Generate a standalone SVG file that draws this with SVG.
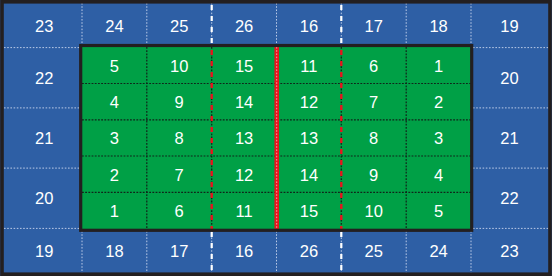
<svg xmlns="http://www.w3.org/2000/svg" width="552" height="276" viewBox="0 0 552 276">
<style>
.bd{stroke:#b9c9e6;stroke-width:1;stroke-dasharray:1.6 1.6;fill:none}
.gd{stroke:#10241a;stroke-width:1.2;stroke-dasharray:1.8 1.4;fill:none}
.wd{stroke:#ffffff;stroke-width:2.2;stroke-dasharray:5 6;fill:none}
.rd{stroke:#e8141e;stroke-width:2.4;stroke-dasharray:5 6;fill:none}
text{font-family:"Liberation Sans",Arial,sans-serif;font-size:16.5px;fill:#ffffff;text-anchor:middle}
</style>
<g id="court">
<rect x="0" y="0" width="552" height="276" fill="#2e5fa5"/>
<g id="blue-grid">
<path class="bd" d="M82 3V45M146.8 3V45M211.7 3V45M276.5 3V45M341.3 3V45M406.2 3V45M471 3V45"/>
<path class="bd" d="M82 231V273M146.8 231V273M211.7 231V273M276.5 231V273M341.3 231V273M406.2 231V273M471 231V273"/>
<path class="bd" d="M4 47.6H80M4 107.9H80M4 168.1H80M4 228.4H80"/>
<path class="bd" d="M473 47.6H548M473 107.9H548M473 168.1H548M473 228.4H548"/>
</g>
<rect x="80.7" y="45.5" width="391" height="184.8" fill="#00a046"/>
<g id="green-grid">
<path class="gd" d="M82 83.5H471M82 119.8H471M82 156H471M82 192.3H471"/>
<path class="gd" d="M146.8 47V229M211.7 47V229M341.3 47V229M406.2 47V229"/>
</g>
<g id="lines">
<path class="wd" d="M211.7 5V44M341.3 5V44M211.7 232V272M341.3 232V272"/>
<path class="rd" d="M211.7 50V229M341.3 50V229"/>
<path d="M276.7 47V229" stroke="#e8141e" stroke-width="4.6" fill="none"/>
<path d="M276.7 47V229" stroke="#f6a0a0" stroke-width="1" stroke-dasharray="1.6 1.6" fill="none"/>
</g>
<rect x="80.7" y="45.5" width="391" height="184.8" fill="none" stroke="#231f20" stroke-width="3.2"/>
<rect x="2" y="1.8" width="548" height="272.4" fill="none" stroke="#231f20" stroke-width="3.6"/>
</g>
<g id="top-row">
<text x="44.3" y="32.3">23</text>
<text x="114.4" y="32.3">24</text>
<text x="179.2" y="32.3">25</text>
<text x="244.1" y="32.3">26</text>
<text x="308.9" y="32.3">16</text>
<text x="373.7" y="32.3">17</text>
<text x="438.6" y="32.3">18</text>
<text x="509.5" y="32.3">19</text>
</g>
<g id="bottom-row">
<text x="44.3" y="256.7">19</text>
<text x="114.4" y="256.7">18</text>
<text x="179.2" y="256.7">17</text>
<text x="244.1" y="256.7">16</text>
<text x="308.9" y="256.7">26</text>
<text x="373.7" y="256.7">25</text>
<text x="438.6" y="256.7">24</text>
<text x="509.5" y="256.7">23</text>
</g>
<g id="left-col">
<text x="44.3" y="84">22</text>
<text x="44.3" y="144.3">21</text>
<text x="44.3" y="204.3">20</text>
</g>
<g id="right-col">
<text x="509.5" y="84">20</text>
<text x="509.5" y="144.3">21</text>
<text x="509.5" y="204.3">22</text>
</g>
<g id="green-cells">
<text x="114.4" y="72">5</text><text x="179.2" y="72">10</text><text x="244.1" y="72">15</text><text x="308.9" y="72">11</text><text x="373.7" y="72">6</text><text x="438.6" y="72">1</text>
<text x="114.4" y="108.2">4</text><text x="179.2" y="108.2">9</text><text x="244.1" y="108.2">14</text><text x="308.9" y="108.2">12</text><text x="373.7" y="108.2">7</text><text x="438.6" y="108.2">2</text>
<text x="114.4" y="144.4">3</text><text x="179.2" y="144.4">8</text><text x="244.1" y="144.4">13</text><text x="308.9" y="144.4">13</text><text x="373.7" y="144.4">8</text><text x="438.6" y="144.4">3</text>
<text x="114.4" y="180.7">2</text><text x="179.2" y="180.7">7</text><text x="244.1" y="180.7">12</text><text x="308.9" y="180.7">14</text><text x="373.7" y="180.7">9</text><text x="438.6" y="180.7">4</text>
<text x="114.4" y="216.9">1</text><text x="179.2" y="216.9">6</text><text x="244.1" y="216.9">11</text><text x="308.9" y="216.9">15</text><text x="373.7" y="216.9">10</text><text x="438.6" y="216.9">5</text>
</g>
</svg>
